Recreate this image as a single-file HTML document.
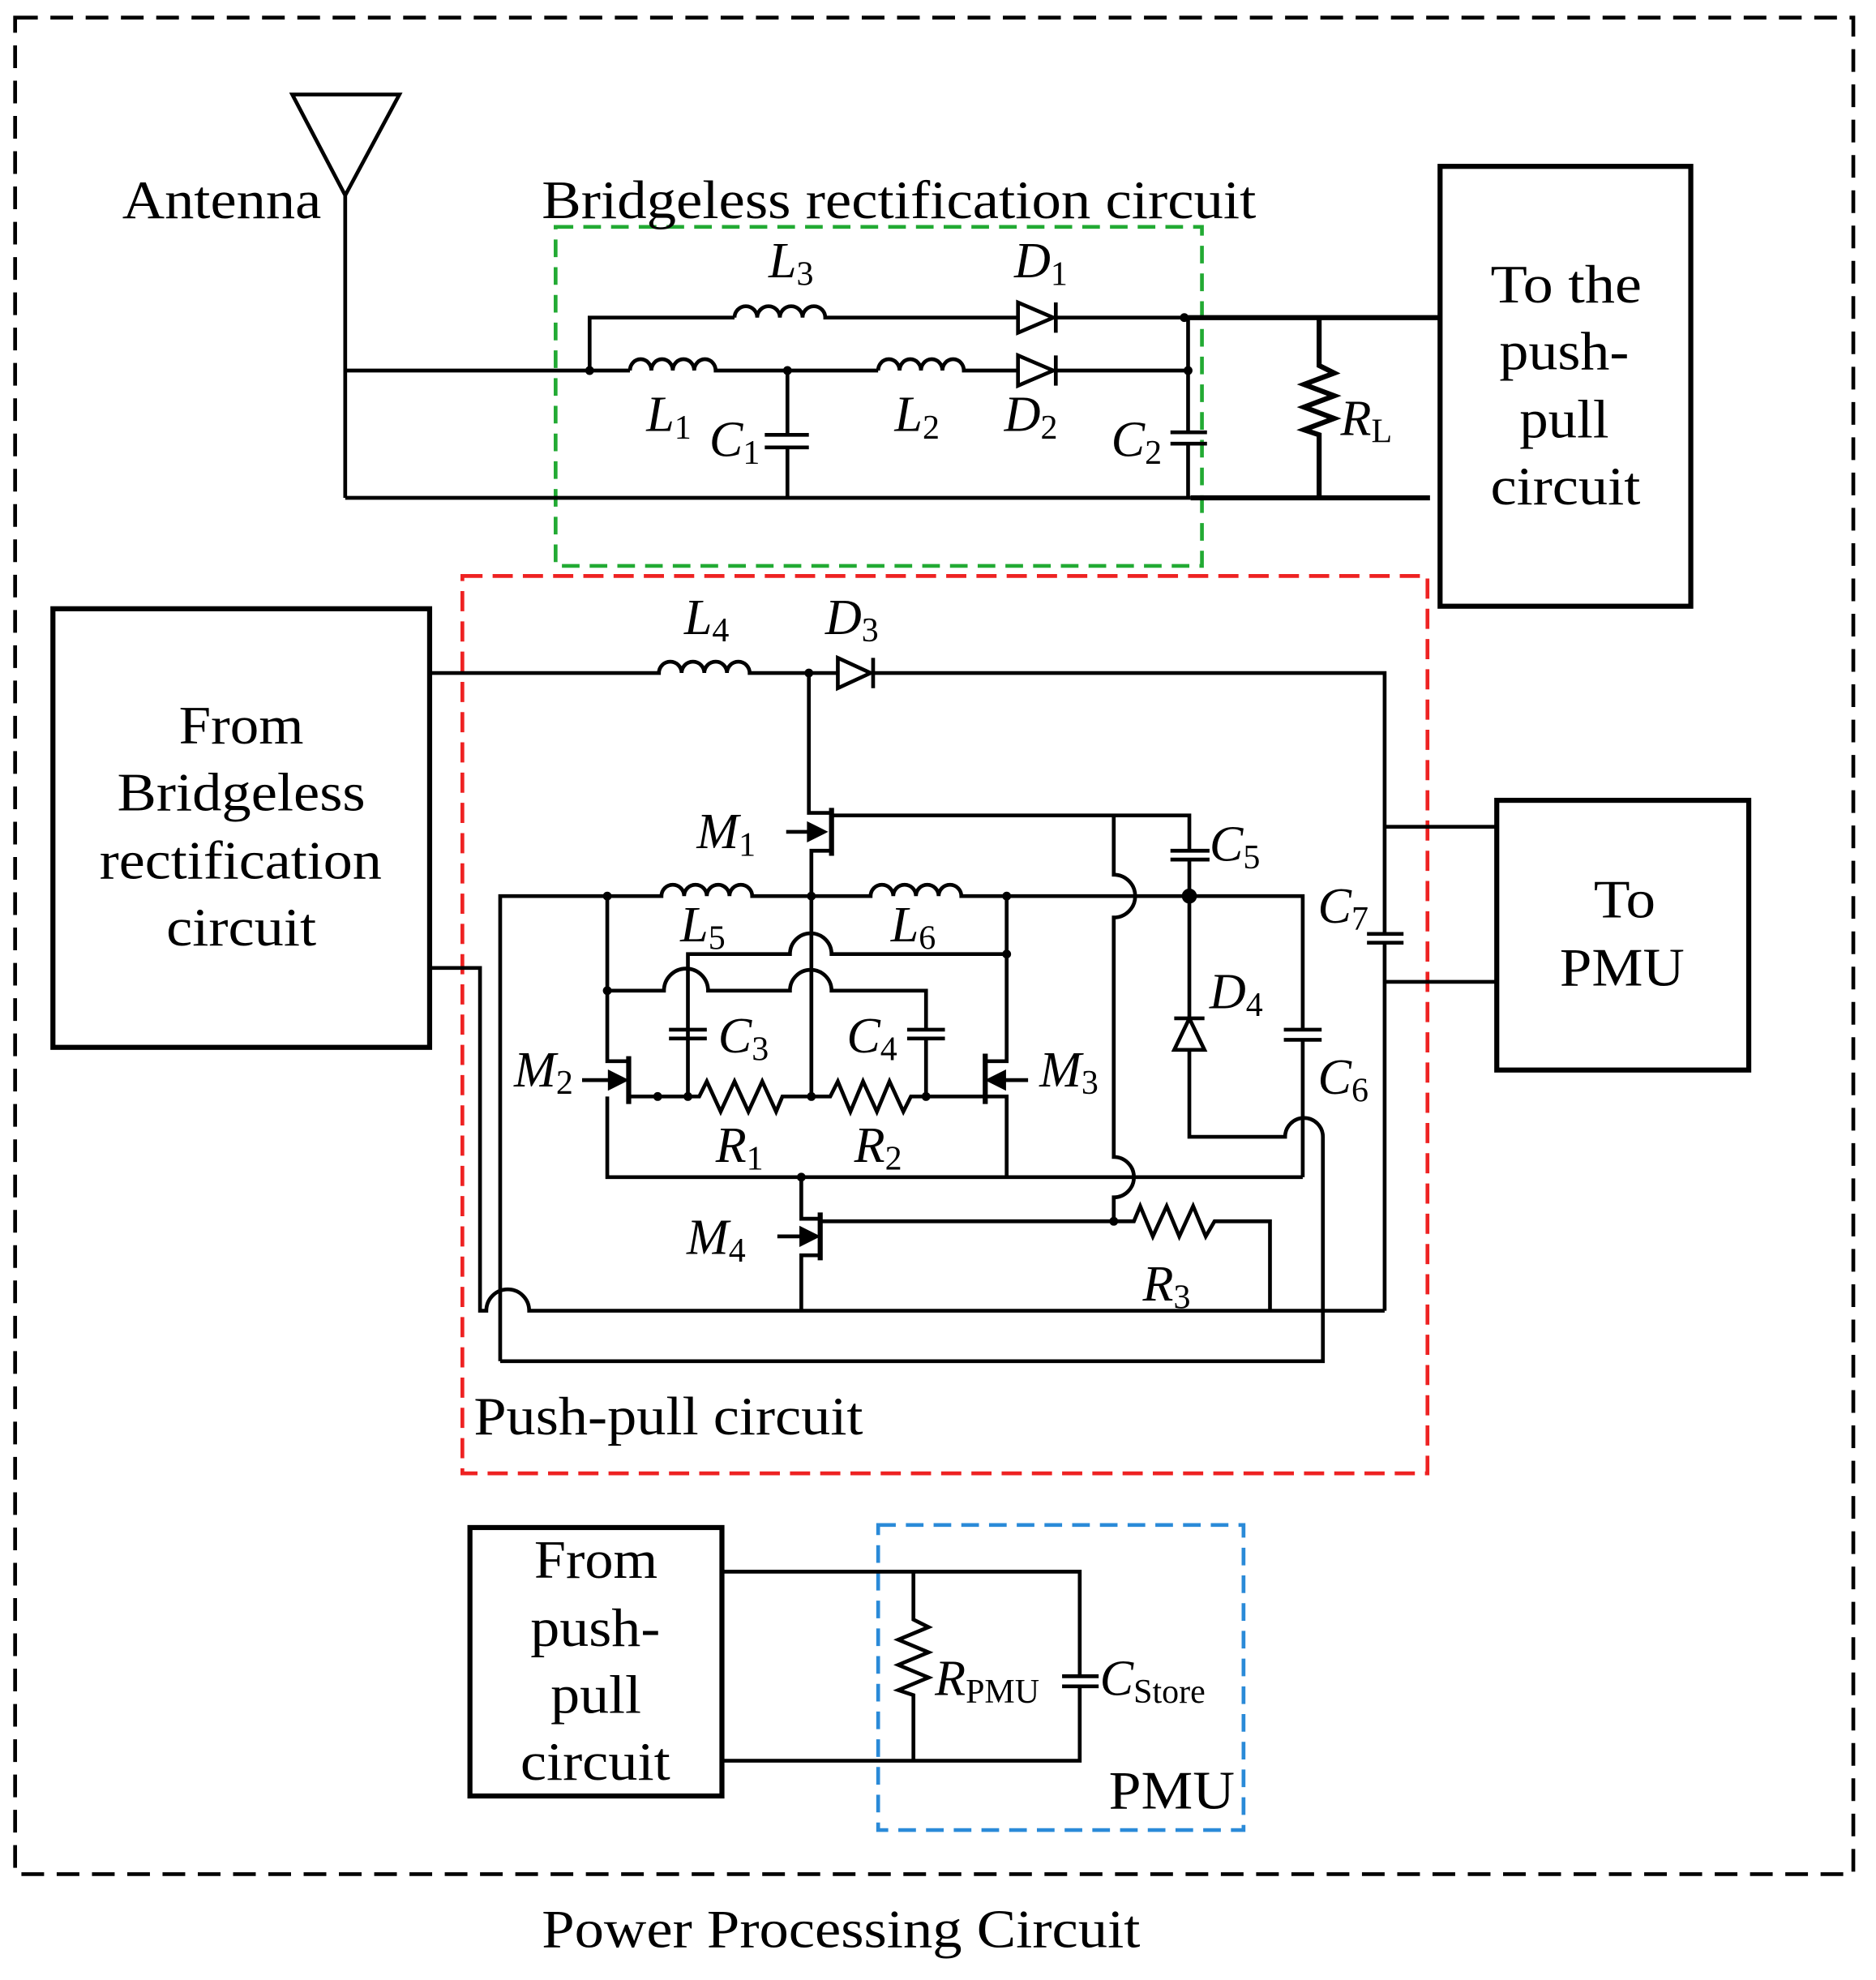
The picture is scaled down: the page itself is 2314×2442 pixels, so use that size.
<!DOCTYPE html>
<html><head><meta charset="utf-8"><style>
html,body{margin:0;padding:0;background:#fff}
svg{display:block}
text{font-family:"Liberation Serif",serif;fill:#000}
.i{font-style:italic;font-size:40px}
.s{font-style:normal;font-size:27px}
.b{font-size:43px}
</style></head><body>
<svg width="2314" height="2442" viewBox="0 0 1489 1571" preserveAspectRatio="none" xmlns="http://www.w3.org/2000/svg">
<g fill="none" stroke="#000" stroke-width="3">
<rect x="12" y="14" width="1459" height="1473" stroke-dasharray="18,10"/>
<rect x="441" y="180" width="513" height="269" stroke="#22aa33" stroke-dasharray="14,8"/>
<rect x="367" y="457" width="766" height="712" stroke="#ee2222" stroke-dasharray="16,8"/>
<rect x="697" y="1210" width="290" height="242" stroke="#2a8ad8" stroke-dasharray="14,8"/>
<path d="M232 75 L317 75 L274 155 Z M274 155 V395"/>
<path d="M274 294 H500 M468 294 V252 H583"/>
<path d="M583 252 a9 9 0 0 1 18 0 a9 9 0 0 1 18 0 a9 9 0 0 1 18 0 a9 9 0 0 1 18 0 H808"/>
<path d="M500 294 a8.5 9 0 0 1 17 0 a8.5 9 0 0 1 17 0 a8.5 9 0 0 1 17 0 a8.5 9 0 0 1 17 0 H697"/>
<path d="M697 294 a8.5 9 0 0 1 17 0 a8.5 9 0 0 1 17 0 a8.5 9 0 0 1 17 0 a8.5 9 0 0 1 17 0 H808"/>
<path d="M808 240 V264 L836 252 Z M838 240 V264 M838 252 H940"/>
<path d="M808 282 V306 L836 294 Z M838 282 V306 M838 294 H945"/>
<path d="M940 252 H1142" stroke-width="4"/>
<path d="M274 395 H945"/><path d="M945 395 H1135" stroke-width="4"/>
<path d="M625 294 V345 M607 345 H642 M607 355 H642 M625 355 V395"/>
<path d="M943 252 V343 M929 343 H958 M929 352 H958 M943 352 V395"/>
<path d="M1047 252 V290 l12 6 l-24 9 l24 9 l-24 9 l24 9 l-24 9 l12 4 V395" stroke-width="4"/>
<rect x="1143" y="132" width="199" height="349" stroke-width="4"/>
<rect x="42" y="483" width="299" height="348" stroke-width="4"/>
<rect x="1188" y="635" width="200" height="214" stroke-width="4"/>
<path d="M341 534 H523 a9 9 0 0 1 18 0 a9 9 0 0 1 18 0 a9 9 0 0 1 18 0 a9 9 0 0 1 18 0 H665"/>
<path d="M665 522 V546 L691 534 Z M693 522 V546 M693 534 H1099 V656 H1188 M1099 656 V741 M1085 741 H1114 M1085 748 H1114 M1099 748 V779 H1188 M1099 779 V1040"/>
<path d="M642 534 V645 H660"/>
<path d="M660 641 V679" stroke-width="4"/><path d="M660 647 H944 V675 M929 675 H960 M929 682 H960 M944 682 V711"/>
<path d="M624 660 H650"/><path d="M654 660 l-12 -6 v12 z" fill="#000"/>
<path d="M660 675 H644 V870"/>
<path d="M397 1080 V711 H525 a9 9 0 0 1 18 0 a9 9 0 0 1 18 0 a9 9 0 0 1 18 0 a9 9 0 0 1 18 0 H691 a9 9 0 0 1 18 0 a9 9 0 0 1 18 0 a9 9 0 0 1 18 0 a9 9 0 0 1 18 0 H1034 V817 M1019 817 H1049 M1019 825 H1049 M1034 825 V934"/>
<path d="M884 647 V694 a17 17 0 0 1 0 34 V918 a16 16 0 0 1 0 32 V969"/>
<path d="M944 711 V902 H1020 a15 15 0 0 1 30 0 V1080 H397"/>
<path d="M932 833 H956 L944 808 Z M932 808 H956" fill="#fff"/>
<path d="M546 870 V817 M531 817 H561 M531 824 H561 M546 817 V757 H627 a16 16 0 0 1 33 0 H799"/>
<path d="M482 711 V842 H499 M482 786 H527 a17 17 0 0 1 35 0 H627 a16 16 0 0 1 33 0 H735 V817 M720 817 H750 M720 824 H750 M735 824 V870"/>
<path d="M799 711 V842 H782"/>
<path d="M499 838 V876 M782 836 V876" stroke-width="4"/>
<path d="M462 857 H490 M816 857 H790"/>
<path d="M496 857 l-12 -6 v12 z M785 857 l12 -6 v12 z" fill="#000"/>
<path d="M499 870 H555 l6 -12 l11 24 l11 -24 l11 24 l11 -24 l11 24 l5 -12 H659 l6 -12 l10 24 l10 -24 l11 24 l10 -24 l11 24 l6 -12 H782 M782 870 H799 V934 M482 870 V934 H884 M884 934 H1034"/>
<path d="M636 934 V967 H651"/>
<path d="M651 962 V1000" stroke-width="4"/>
<path d="M651 969 H900 l5 -12 l10 24 l11 -24 l10 24 l11 -24 l10 24 l7 -12 H1008 V1040"/>
<path d="M617 981 H643"/><path d="M648 981 l-12 -6 v12 z" fill="#000"/>
<path d="M651 996 H636 V1040"/>
<path d="M341 768 H381 V1040 H386 a17 17 0 0 1 34 0 H1099"/>
<rect x="373" y="1212" width="200" height="213" stroke-width="4"/>
<path d="M573 1247 H857 V1330 M843 1330 H872 M843 1338 H872 M857 1338 V1397 H573"/>
<path d="M725 1247 V1285 l12 6 l-24 10 l24 10 l-24 10 l24 10 l-24 10 l12 4 V1397"/>
</g>
<g fill="#000">
<circle cx="468" cy="294" r="3.5"/><circle cx="625" cy="294" r="3.5"/><circle cx="943" cy="294" r="3.5"/><circle cx="940" cy="252" r="3.5"/>
<circle cx="642" cy="534" r="3.5"/><circle cx="644" cy="711" r="3.5"/><circle cx="482" cy="711" r="3.5"/><circle cx="799" cy="711" r="3.5"/>
<circle cx="944" cy="711" r="6"/><circle cx="482" cy="786" r="3.5"/><circle cx="799" cy="757" r="3.5"/>
<circle cx="522" cy="870" r="3.5"/><circle cx="546" cy="870" r="3.5"/><circle cx="644" cy="870" r="3.5"/><circle cx="735" cy="870" r="3.5"/>
<circle cx="636" cy="934" r="3.5"/><circle cx="884" cy="969" r="3.5"/>
</g>
<g class="b" lengthAdjust="spacingAndGlyphs">
<text x="97" y="173" textLength="158" lengthAdjust="spacingAndGlyphs">Antenna</text>
<text x="430" y="173" textLength="567" lengthAdjust="spacingAndGlyphs">Bridgeless rectification circuit</text>
<text x="1183" y="240" textLength="120" lengthAdjust="spacingAndGlyphs">To the</text>
<text x="1190" y="293" textLength="103" lengthAdjust="spacingAndGlyphs">push-</text>
<text x="1206" y="347" textLength="71" lengthAdjust="spacingAndGlyphs">pull</text>
<text x="1183" y="400" textLength="119" lengthAdjust="spacingAndGlyphs">circuit</text>
<text x="142" y="590" textLength="99" lengthAdjust="spacingAndGlyphs">From</text>
<text x="93" y="643" textLength="197" lengthAdjust="spacingAndGlyphs">Bridgeless</text>
<text x="79" y="697" textLength="224" lengthAdjust="spacingAndGlyphs">rectification</text>
<text x="132" y="750" textLength="119" lengthAdjust="spacingAndGlyphs">circuit</text>
<text x="1265" y="728" textLength="49" lengthAdjust="spacingAndGlyphs">To</text>
<text x="1238" y="782" textLength="99" lengthAdjust="spacingAndGlyphs">PMU</text>
<text x="424" y="1252" textLength="98" lengthAdjust="spacingAndGlyphs">From</text>
<text x="421" y="1306" textLength="103" lengthAdjust="spacingAndGlyphs">push-</text>
<text x="437" y="1359" textLength="72" lengthAdjust="spacingAndGlyphs">pull</text>
<text x="413" y="1412" textLength="119" lengthAdjust="spacingAndGlyphs">circuit</text>
<text x="376" y="1138" textLength="309" lengthAdjust="spacingAndGlyphs">Push-pull circuit</text>
<text x="880" y="1435" textLength="100" lengthAdjust="spacingAndGlyphs">PMU</text>
<text x="430" y="1545" textLength="475" lengthAdjust="spacingAndGlyphs">Power Processing Circuit</text>
</g>
<text x="610" y="220" class="i">L<tspan class="s" dy="6">3</tspan></text>
<text x="805" y="220" class="i">D<tspan class="s" dy="6">1</tspan></text>
<text x="513" y="342" class="i">L<tspan class="s" dy="6">1</tspan></text>
<text x="563" y="362" class="i">C<tspan class="s" dy="6">1</tspan></text>
<text x="710" y="342" class="i">L<tspan class="s" dy="6">2</tspan></text>
<text x="797" y="342" class="i">D<tspan class="s" dy="6">2</tspan></text>
<text x="882" y="362" class="i">C<tspan class="s" dy="6">2</tspan></text>
<text x="1064" y="345" class="i">R<tspan class="s" dy="6">L</tspan></text>
<text x="543" y="503" class="i">L<tspan class="s" dy="6">4</tspan></text>
<text x="655" y="503" class="i">D<tspan class="s" dy="6">3</tspan></text>
<text x="553" y="673" class="i">M<tspan class="s" dy="6">1</tspan></text>
<text x="960" y="683" class="i">C<tspan class="s" dy="6">5</tspan></text>
<text x="540" y="747" class="i">L<tspan class="s" dy="6">5</tspan></text>
<text x="707" y="747" class="i">L<tspan class="s" dy="6">6</tspan></text>
<text x="1046" y="732" class="i">C<tspan class="s" dy="6">7</tspan></text>
<text x="960" y="800" class="i">D<tspan class="s" dy="6">4</tspan></text>
<text x="570" y="835" class="i">C<tspan class="s" dy="6">3</tspan></text>
<text x="672" y="835" class="i">C<tspan class="s" dy="6">4</tspan></text>
<text x="408" y="862" class="i">M<tspan class="s" dy="6">2</tspan></text>
<text x="825" y="862" class="i">M<tspan class="s" dy="6">3</tspan></text>
<text x="1046" y="868" class="i">C<tspan class="s" dy="6">6</tspan></text>
<text x="568" y="922" class="i">R<tspan class="s" dy="6">1</tspan></text>
<text x="678" y="922" class="i">R<tspan class="s" dy="6">2</tspan></text>
<text x="545" y="995" class="i">M<tspan class="s" dy="6">4</tspan></text>
<text x="907" y="1032" class="i">R<tspan class="s" dy="6">3</tspan></text>
<text x="742" y="1345" class="i">R<tspan class="s" dy="6">PMU</tspan></text>
<text x="873" y="1345" class="i">C<tspan class="s" dy="6">Store</tspan></text>
</svg>
</body></html>
